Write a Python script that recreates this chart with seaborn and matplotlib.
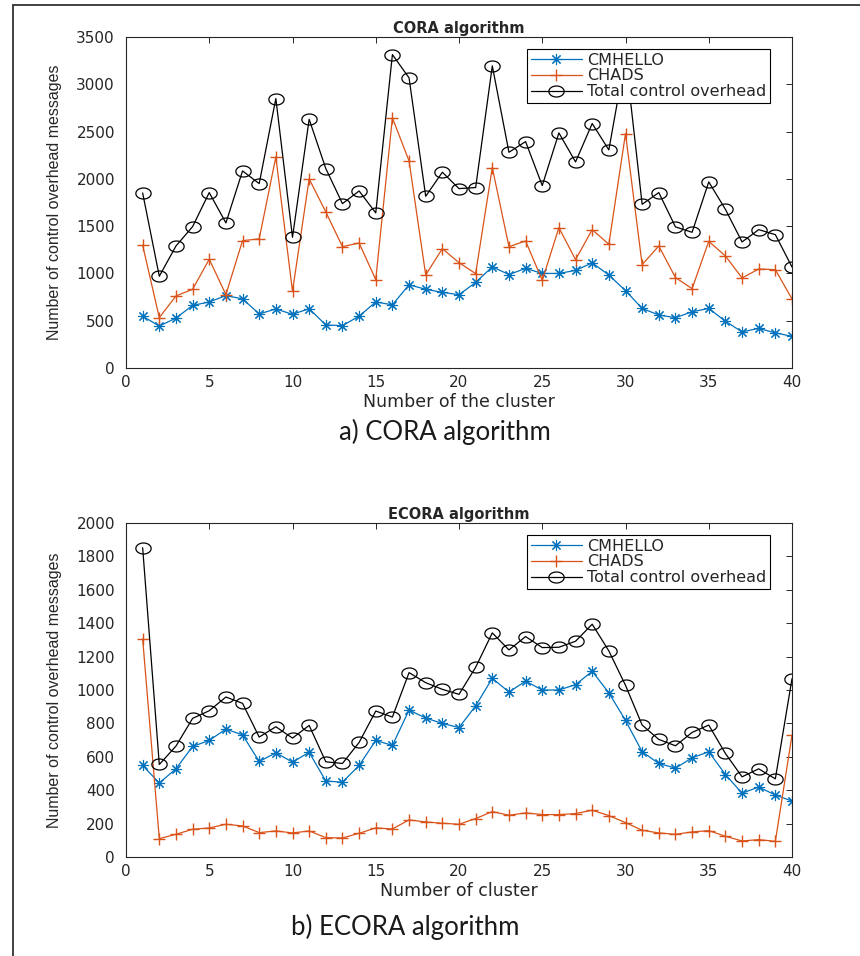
import numpy as np
import pandas as pd
import matplotlib
matplotlib.use("Agg")
import matplotlib.pyplot as plt
from matplotlib.lines import Line2D
from matplotlib.path import Path
import seaborn as sns

# ---- data -------------------------------------------------------------
clusters = list(range(1, 41))

cmhello = [548, 443, 528, 662, 698, 766, 731, 572, 624, 568,
           627, 455, 448, 548, 698, 668, 880, 832, 800, 775,
           905, 1070, 988, 1053, 1000, 1000, 1032, 1112, 983, 818,
           630, 560, 532, 594, 630, 494, 382, 419, 371, 335]

cora_chads = [1298, 532, 762, 832, 1150, 776, 1347, 1365, 2232, 811,
              2000, 1650, 1283, 1322, 934, 2645, 2190, 984, 1262, 1114,
              998, 2119, 1283, 1343, 927, 1484, 1146, 1463, 1308, 2479,
              1093, 1290, 956, 839, 1340, 1185, 952, 1047, 1040, 730]

cora_total = [1851, 970, 1290, 1495, 1855, 1534, 2084, 1950, 2849, 1382,
              2630, 2109, 1738, 1872, 1640, 3314, 3068, 1816, 2070, 1897,
              1908, 3195, 2281, 2394, 1929, 2486, 2179, 2585, 2306, 3295,
              1731, 1855, 1492, 1435, 1968, 1678, 1333, 1463, 1410, 1068]

ecora_chads = [1306, 110, 136, 166, 174, 196, 186, 146, 156, 144,
               156, 116, 114, 142, 174, 168, 222, 210, 202, 196,
               230, 272, 250, 264, 254, 254, 260, 280, 248, 206,
               160, 144, 136, 150, 158, 124, 96, 104, 94, 730]

ecora_total = [1852, 554, 664, 830, 876, 958, 920, 718, 780, 712,
               788, 570, 560, 686, 874, 838, 1104, 1044, 1004, 974,
               1136, 1342, 1240, 1320, 1254, 1256, 1292, 1394, 1234, 1028,
               790, 704, 666, 746, 790, 620, 480, 528, 468, 1068]

series_names = ["CMHELLO", "CHADS", "Total control overhead"]
panel_titles = ["CORA algorithm", "ECORA algorithm"]
x_labels = ["Number of the cluster", "Number of cluster"]
captions = ["a) CORA algorithm", "b) ECORA algorithm"]
y_ticks_top = [0, 500, 1000, 1500, 2000, 2500, 3000, 3500]
y_ticks_bottom = [0, 200, 400, 600, 800, 1000, 1200, 1400, 1600, 1800, 2000]
x_ticks = [0, 5, 10, 15, 20, 25, 30, 35, 40]

# ---- style ------------------------------------------------------------
sns.set_theme(style="white")
plt.rcParams["font.family"] = ["DejaVu Sans"]
plt.rcParams["axes.edgecolor"] = "#262626"
plt.rcParams["axes.linewidth"] = 0.8

BLUE = "#0072BD"
ORANGE = "#D95319"
INK = "#262626"

# slightly flattened circle for the total-overhead markers
theta = np.linspace(0, 2 * np.pi, 60)
ellipse = Path(np.column_stack([np.cos(theta), 0.72 * np.sin(theta)]), closed=True)

styles = {
    "CMHELLO": dict(color=BLUE, marker=(8, 2, 0), markersize=8,
                    markeredgewidth=0.8, markeredgecolor=BLUE),
    "CHADS": dict(color=ORANGE, marker="+", markersize=9,
                  markeredgewidth=1.0, markeredgecolor=ORANGE),
    "Total control overhead": dict(color="black", marker=ellipse, markersize=11,
                                   markerfacecolor="none", markeredgewidth=0.9,
                                   markeredgecolor="black"),
}


def long_frame(values_by_series):
    parts = []
    for name, vals in values_by_series.items():
        parts.append(pd.DataFrame({"cluster": clusters, "messages": vals, "series": name}))
    return pd.concat(parts, ignore_index=True)


cora = long_frame({"CMHELLO": cmhello, "CHADS": cora_chads,
                   "Total control overhead": cora_total})
ecora = long_frame({"CMHELLO": cmhello, "CHADS": ecora_chads,
                    "Total control overhead": ecora_total})

W, H = 860, 956
fig = plt.figure(figsize=(W / 100, H / 100), dpi=100)
fig.patch.set_facecolor("white")

# axes boxes in pixel coordinates: (left, top, right, bottom)
boxes = [(126, 37, 792, 368), (126, 523, 792, 857)]
frames = [cora, ecora]
ylims = [(0, 3500), (0, 2000)]
yticks = [y_ticks_top, y_ticks_bottom]
caption_pos = [(445, 432), (405, 927)]

for i, (l, t, r, b) in enumerate(boxes):
    ax = fig.add_axes([l / W, 1 - b / H, (r - l) / W, (b - t) / H])
    df = frames[i]
    for name in series_names:
        sub = df[df["series"] == name]
        sns.lineplot(data=sub, x="cluster", y="messages", ax=ax, label=name,
                     linewidth=0.9, estimator=None, sort=True, **styles[name])
    ax.set_xlim(0, 40)
    ax.set_ylim(*ylims[i])
    ax.set_xticks(x_ticks)
    ax.set_yticks(yticks[i])
    ax.tick_params(direction="in", length=4, width=0.7, top=True, right=True,
                   labelsize=11, colors=INK)
    ax.tick_params(axis="x", pad=5)
    ax.tick_params(axis="y", pad=8)
    for s in ax.spines.values():
        s.set_visible(True)
        s.set_color(INK)
        s.set_linewidth(0.8)
    ax.set_title(panel_titles[i], fontsize=10.5, fontweight="bold", pad=3)
    ax.set_xlabel(x_labels[i], fontsize=12.5, color=INK, labelpad=2)
    ax.set_ylabel("Number of control overhead messages", fontsize=11.5,
                  family=["Liberation Sans Narrow", "Liberation Sans", "DejaVu Sans"],
                  color=INK)
    ax.yaxis.set_label_coords((62 - l) / (r - l), 0.5)
    leg = ax.legend(loc="upper right",
                    bbox_to_anchor=((770 - l) / (r - l), 1 - (49 - 37) / (b - t)),
                    borderaxespad=0, fontsize=11.5, frameon=True, fancybox=False,
                    framealpha=1, edgecolor="black", handlelength=3.2,
                    labelspacing=0.05, borderpad=0.22, handletextpad=0.35)
    leg.get_frame().set_linewidth(0.8)
    cx, cy = caption_pos[i]
    fig.text(cx / W, 1 - cy / H, captions[i], ha="center", va="center",
             fontsize=18.5, family=["Lato", "DejaVu Sans"], color="#1a1a1a")

# outer frame lines along the left and top edges
fig.add_artist(Line2D([13 / W, 13 / W], [0, 1 - 5 / H], transform=fig.transFigure,
                      color="#333333", linewidth=1.3))
fig.add_artist(Line2D([13 / W, 1], [1 - 5 / H, 1 - 5 / H], transform=fig.transFigure,
                      color="#333333", linewidth=1.3))

fig.savefig("out.png", dpi=100, facecolor="white")
